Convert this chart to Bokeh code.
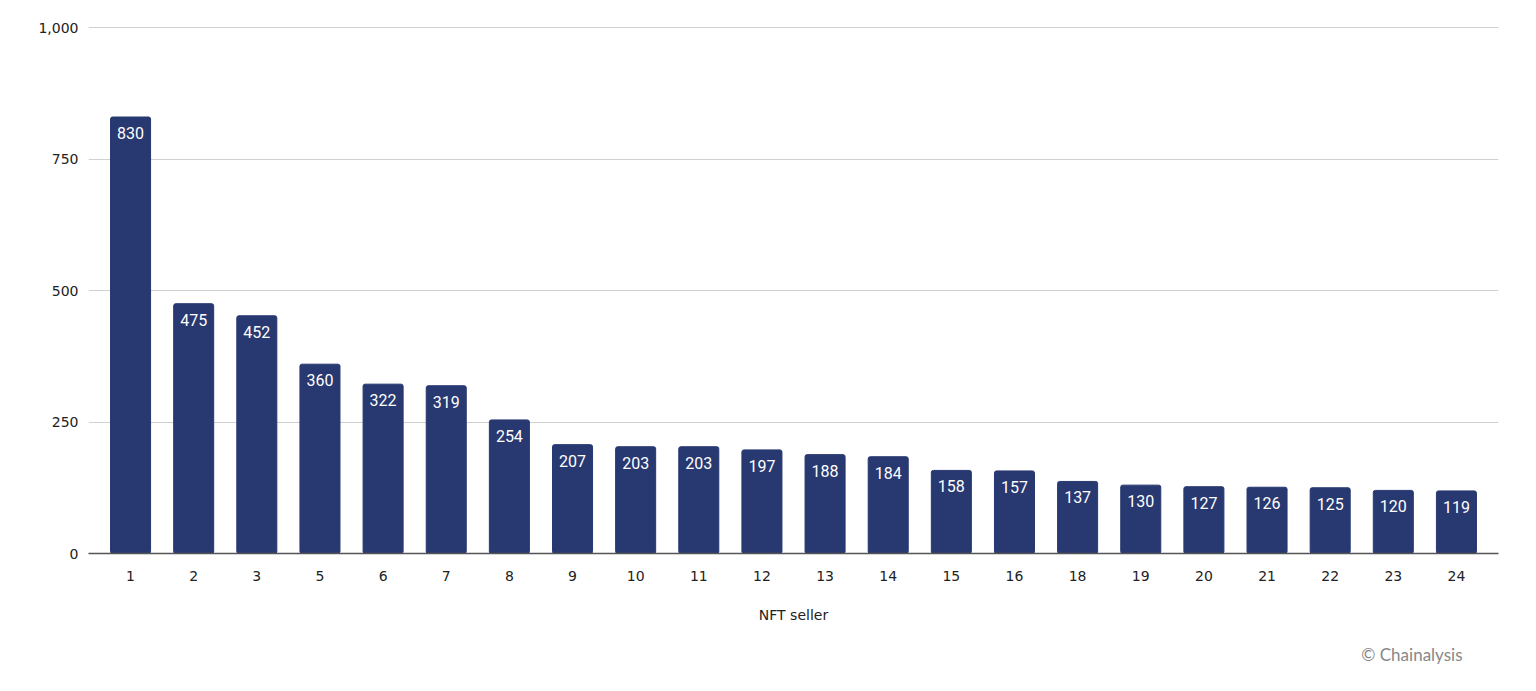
from bokeh.plotting import figure
from bokeh.models import ColumnDataSource, NumeralTickFormatter, FixedTicker, Title
from bokeh.embed import file_html
from bokeh.resources import INLINE
from bokeh.core.properties import value

sellers = ["1", "2", "3", "5", "6", "7", "8", "9", "10", "11", "12", "13", "14",
           "15", "16", "18", "19", "20", "21", "22", "23", "24"]
counts = [830, 475, 452, 360, 322, 319, 254, 207, 203, 203, 197, 188, 184,
          158, 157, 137, 130, 127, 126, 125, 120, 119]
y_ticks = [0, 250, 500, 750, 1000]

src = ColumnDataSource(dict(x=sellers, y=counts, lbl=[str(c) for c in counts]))

p = figure(x_range=sellers, y_range=(0, 1004), width=1530, height=680,
           output_backend="svg", toolbar_location=None,
           min_border_left=88, min_border_right=32, min_border_top=25,
           min_border_bottom=20)
p.x_range.range_padding = 0.166
p.x_range.range_padding_units = "absolute"
p.outline_line_color = None
p.background_fill_color = "white"

p.vbar(x="x", top="y", width=0.634, source=src, color="#283870",
       border_radius=2)
p.text(x="x", y="y", text="lbl", source=src, text_color="white",
       text_font=value("Roboto"), text_font_size="16px",
       text_align="center", text_baseline="top", y_offset=10)

p.yaxis.ticker = FixedTicker(ticks=y_ticks)
p.yaxis.formatter = NumeralTickFormatter(format="0,0")
p.yaxis.axis_line_color = None
p.yaxis.major_tick_line_color = None
p.yaxis.minor_tick_line_color = None
p.yaxis.major_tick_out = 0
p.yaxis.major_label_text_font = "DejaVu Sans"
p.yaxis.major_label_text_font_size = "14px"
p.yaxis.major_label_text_color = "#222222"
p.yaxis.major_label_standoff = 10

p.xaxis.axis_line_color = "#555555"
p.xaxis.axis_line_width = 1.5
p.xaxis.major_tick_line_color = None
p.xaxis.minor_tick_line_color = None
p.xaxis.major_tick_out = 0
p.xaxis.major_label_text_font = "DejaVu Sans"
p.xaxis.major_label_text_font_size = "14px"
p.xaxis.major_label_text_color = "#222222"
p.xaxis.major_label_standoff = 17
p.xaxis.axis_label = "NFT seller"
p.xaxis.axis_label_text_font = "DejaVu Sans"
p.xaxis.axis_label_text_font_size = "14px"
p.xaxis.axis_label_text_font_style = "normal"
p.xaxis.axis_label_text_color = "#222222"
p.xaxis.axis_label_standoff = 23

p.xgrid.grid_line_color = None
p.ygrid.grid_line_color = "#d0d0d0"
p.ygrid.grid_line_width = 1

p.add_layout(Title(text="© Chainalysis", align="right", offset=36,
                   text_font="Lato", text_font_size="17px",
                   text_font_style="normal", text_color="#888888",
                   standoff=32), "below")

open("out.html", "w").write(file_html(p, INLINE))
